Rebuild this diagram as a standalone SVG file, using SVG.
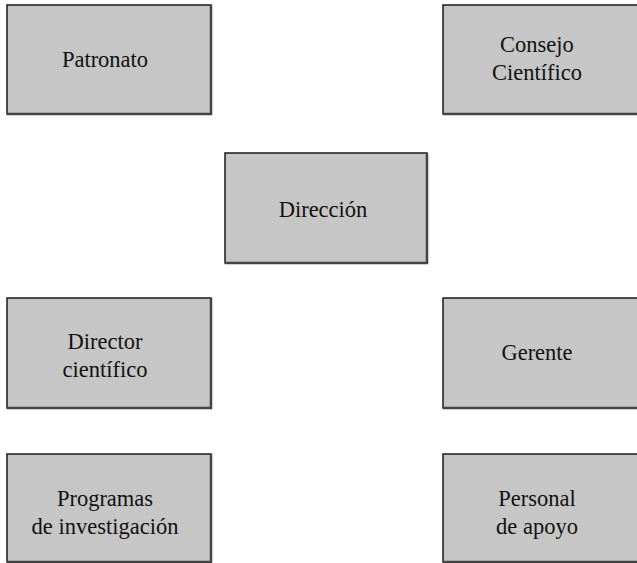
<svg xmlns="http://www.w3.org/2000/svg" width="637" height="563" viewBox="0 0 637 563">
<style>
.box{fill:#c6c6c6;stroke:#1a1a1a;stroke-width:1.5}
.sh{fill:none;stroke:#444;stroke-width:2.5}
.t{font-family:'Liberation Serif','Times New Roman',serif;font-size:22.5px;fill:#111;text-anchor:middle}
</style>
<rect width="637" height="563" fill="#ffffff"/>
<g id="connectors"></g>
<g id="patronato">
<rect class="box" x="7" y="5" width="204" height="109"/>
<path class="sh" d="M211,5 V114 H7"/>
<text class="t" x="105" y="67">Patronato</text>
</g>
<g id="consejo">
<rect class="box" x="443" y="5" width="200" height="109"/>
<path class="sh" d="M443,114 H643"/>
<text class="t" x="537" y="52">Consejo</text>
<text class="t" x="537" y="80">Científico</text>
</g>
<g id="direccion">
<rect class="box" x="225" y="153" width="202" height="110"/>
<path class="sh" d="M427,153 V263 H225"/>
<text class="t" x="323" y="217">Dirección</text>
</g>
<g id="director">
<rect class="box" x="7" y="298" width="204" height="110"/>
<path class="sh" d="M211,298 V408 H7"/>
<text class="t" x="105" y="349">Director</text>
<text class="t" x="105" y="377">científico</text>
</g>
<g id="gerente">
<rect class="box" x="443" y="298" width="200" height="110"/>
<path class="sh" d="M443,408 H643"/>
<text class="t" x="537" y="360">Gerente</text>
</g>
<g id="programas">
<rect class="box" x="7" y="454" width="204" height="108"/>
<path class="sh" d="M211,454 V562 H7"/>
<text class="t" x="105" y="506">Programas</text>
<text class="t" x="105" y="534">de investigación</text>
</g>
<g id="personal">
<rect class="box" x="443" y="454" width="200" height="108"/>
<path class="sh" d="M443,562 H643"/>
<text class="t" x="537" y="506">Personal</text>
<text class="t" x="537" y="534">de apoyo</text>
</g>
</svg>
